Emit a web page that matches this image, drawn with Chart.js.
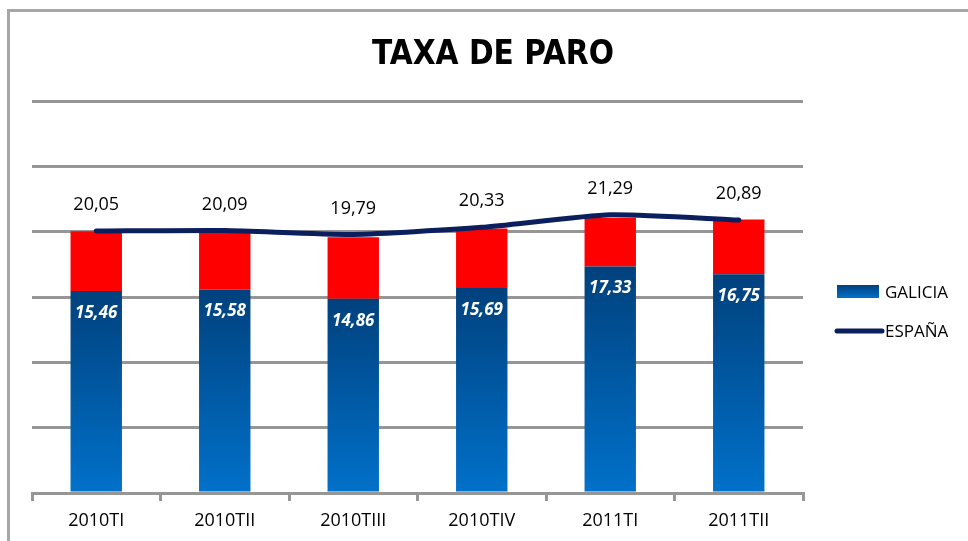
<!DOCTYPE html>
<html>
<head>
<meta charset="utf-8">
<script src="https://cdn.jsdelivr.net/npm/chart.js@4.4.1/dist/chart.umd.min.js"></script>
<style>
    html, body { margin: 0; padding: 0; background: #fff; overflow: hidden; }
    #wrap { position: relative; width: 968px; height: 541px; }
    #frame {
        position: absolute; left: 7px; top: 9px; right: -10px; bottom: -10px;
        border-left: 3px solid #a6a6a6; border-top: 3px solid #a6a6a6;
    }
    canvas { position: absolute; left: 0; top: 0; }
</style>
</head>
<body>
<div id="wrap">
    <div id="frame"></div>
    <canvas id="chart" width="968" height="541"></canvas>
</div>
<script>
const categories = ['2010TI', '2010TII', '2010TIII', '2010TIV', '2011TI', '2011TII'];
const galicia = [15.46, 15.58, 14.86, 15.69, 17.33, 16.75];
const espana = [20.05, 20.09, 19.79, 20.33, 21.29, 20.89];
// red block on top of each bar
const redPart = [4.58, 4.42, 4.72, 4.55, 3.73, 4.19];

const GRID = '#969696';
const NAVY = '#0b1f5e';
const FONT = "'Open Sans', 'Liberation Sans', sans-serif";

function fmt(v) {
    return v.toFixed(2).replace('.', ',');
}

function blueGradient(ctx, top, bottom) {
    const g = ctx.createLinearGradient(0, top, 0, bottom);
    g.addColorStop(0, '#00417d');
    g.addColorStop(1, '#0071ca');
    return g;
}

const valueLabels = {
    id: 'valueLabels',
    afterDatasetsDraw(chart) {
        const ctx = chart.ctx;
        ctx.save();
        ctx.textAlign = 'center';
        ctx.textBaseline = 'middle';

        chart.getDatasetMeta(0).data.forEach((bar, i) => {
            ctx.fillStyle = '#fff';
            ctx.font = "italic bold 17px " + FONT;
            ctx.fillText(fmt(galicia[i]), bar.x, bar.y + 22);
        });

        chart.getDatasetMeta(2).data.forEach((pt, i) => {
            ctx.fillStyle = '#000';
            ctx.font = "18px " + FONT;
            ctx.fillText(fmt(espana[i]), pt.x, pt.y - 26);
        });
        ctx.restore();
    }
};

// title and legend are placed by hand, like the original sheet
const sideLegend = {
    id: 'sideLegend',
    afterDraw(chart) {
        const ctx = chart.ctx;
        ctx.save();
        ctx.fillStyle = '#000';
        ctx.textAlign = 'center';
        ctx.textBaseline = 'middle';
        ctx.font = "bold 33px 'DejaVu Sans Condensed', 'DejaVu Sans', sans-serif";
        ctx.fillText('TAXA DE PARO', 493, 55);

        ctx.fillStyle = blueGradient(ctx, 285, 298);
        ctx.fillRect(837, 285, 42, 13);

        ctx.strokeStyle = NAVY;
        ctx.lineWidth = 5;
        ctx.lineCap = 'round';
        ctx.beginPath();
        ctx.moveTo(837, 331);
        ctx.lineTo(882, 331);
        ctx.stroke();

        ctx.fillStyle = '#000';
        ctx.font = "17px " + FONT;
        ctx.textAlign = 'left';
        ctx.fillText('GALICIA', 885, 293);
        ctx.fillText('ESPAÑA', 885, 332);
        ctx.restore();
    }
};

new Chart(document.getElementById('chart'), {
    type: 'bar',
    data: {
        labels: categories,
        datasets: [
            {
                label: 'GALICIA',
                data: galicia,
                stack: 'bars',
                backgroundColor: (c) => {
                    const chart = c.chart;
                    if (!chart.chartArea || c.parsed === undefined) return '#00589f';
                    const top = chart.scales.y.getPixelForValue(c.parsed.y);
                    return blueGradient(chart.ctx, top, chart.chartArea.bottom);
                },
                barPercentage: 0.4,
                categoryPercentage: 1,
                order: 2,
            },
            {
                label: 'diff',
                data: redPart,
                stack: 'bars',
                backgroundColor: '#ff0000',
                barPercentage: 0.4,
                categoryPercentage: 1,
                order: 2,
            },
            {
                type: 'line',
                label: 'ESPAÑA',
                data: espana,
                stack: 'line',
                borderColor: NAVY,
                borderWidth: 5,
                borderCapStyle: 'round',
                tension: 0.2,
                pointRadius: 0,
                fill: false,
                order: 1,
            },
        ],
    },
    options: {
        responsive: false,
        animation: false,
        layout: {
            padding: { left: 32, right: 165, top: 101, bottom: 0 },
        },
        plugins: {
            legend: { display: false },
            tooltip: { enabled: false },
            title: { display: false },
        },
        scales: {
            x: {
                stacked: true,
                grid: {
                    display: true,
                    drawOnChartArea: false,
                    drawTicks: true,
                    tickLength: 8,
                    color: GRID,
                    lineWidth: 3,
                    offset: true,
                },
                border: { display: true, color: GRID, width: 3 },
                ticks: {
                    color: '#000',
                    font: { family: FONT, size: 18, lineHeight: 1 },
                    padding: 11,
                },
            },
            y: {
                stacked: true,
                min: 0,
                max: 30,
                ticks: { display: false, stepSize: 5 },
                grid: { color: GRID, lineWidth: 3, drawTicks: false },
                border: { display: false },
            },
        },
    },
    plugins: [valueLabels, sideLegend],
});
</script>
</body>
</html>
